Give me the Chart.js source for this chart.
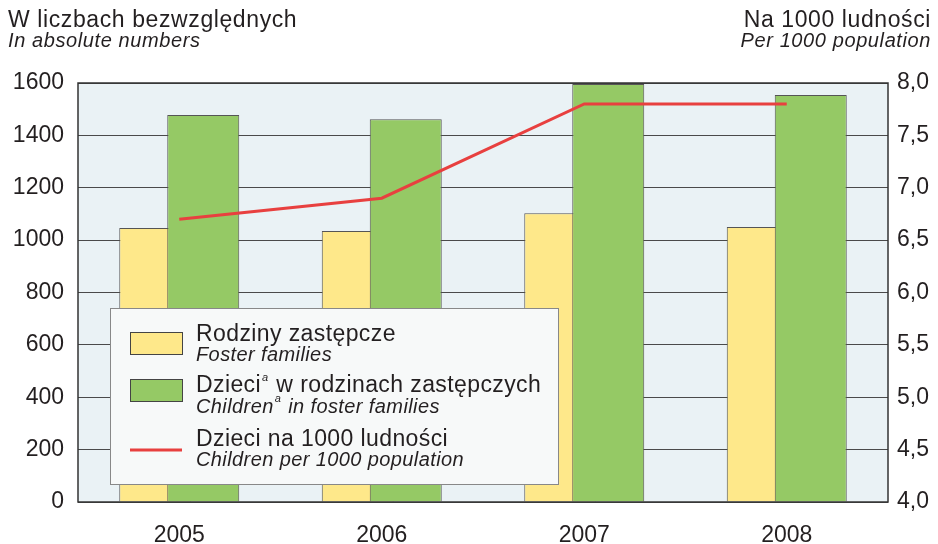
<!DOCTYPE html>
<html>
<head>
<meta charset="utf-8">
<script src="https://cdn.jsdelivr.net/npm/chart.js@4"></script>
<style>
  body { margin: 0; background: #fff; }
  #wrap { width: 938px; height: 544px; position: relative; }
</style>
</head>
<body>
<div id="wrap"><canvas id="myChart"></canvas></div>
<script>
// data
const years = ["2005", "2006", "2007", "2008"];
const fosterFamilies = [1046, 1035, 1103, 1050];
const childrenInFamilies = [1478, 1462, 1596, 1554];
const childrenPer1000 = [6.7, 6.9, 7.8, 7.8];

const leftTitle = ["W liczbach bezwzględnych", "In absolute numbers"];
const rightTitle = ["Na 1000 ludności", "Per 1000 population"];
// legend lines: [polish, english]; "^" marks the superscript a
const legendLabels = [
  ["Rodziny zastępcze", "Foster families"],
  ["Dzieci^ w rodzinach zastępczych", "Children^ in foster families"],
  ["Dzieci na 1000 ludności", "Children per 1000 population"]
];

const yellow = "#fee88a";
const green = "#95c965";
const red = "#e8403f";
const FONT = "'Liberation Sans', Arial, sans-serif";

function supText(ctx, str, x, y) {
  // draws text, "^" becomes a small raised "a"
  const parts = str.split("^");
  let cx = x;
  parts.forEach((p, i) => {
    ctx.fillText(p, cx, y);
    cx += ctx.measureText(p).width;
    if (i < parts.length - 1) {
      ctx.save();
      ctx.font = "italic 11px " + FONT;
      ctx.fillText("a", cx + 1, y - 11);
      cx += ctx.measureText("a").width + 2;
      ctx.restore();
    }
  });
}

const customDraw = {
  id: "customDraw",
  beforeDraw(chart) {
    const { ctx, chartArea: a } = chart;
    ctx.save();
    ctx.fillStyle = "#eaf2f5";
    ctx.fillRect(a.left, a.top, a.right - a.left, a.bottom - a.top);
    // axis titles
    ctx.fillStyle = "#231f20";
    ctx.textBaseline = "alphabetic";
    ctx.letterSpacing = "0.6px";
    ctx.font = "23px " + FONT;
    ctx.textAlign = "left";
    ctx.fillText(leftTitle[0], 8, 27);
    ctx.textAlign = "right";
    ctx.fillText(rightTitle[0], 931, 27);
    ctx.font = "italic 20px " + FONT;
    ctx.textAlign = "left";
    ctx.fillText(leftTitle[1], 8, 47);
    ctx.textAlign = "right";
    ctx.fillText(rightTitle[1], 931, 47);
    ctx.letterSpacing = "0px";
    ctx.restore();
  },
  beforeDatasetsDraw(chart) {
    const { ctx, chartArea: a } = chart;
    // yellow first, green over it, line on top
    [0, 1, 2].forEach(i => chart.getDatasetMeta(i).controller.draw());

    ctx.save();
    // plot frame
    ctx.strokeStyle = "#333";
    ctx.lineWidth = 1.5;
    ctx.strokeRect(a.left, a.top, a.right - a.left, a.bottom - a.top);

    // legend box
    const lx = 110, ly = 308, lw = 448, lh = 176;
    ctx.fillStyle = "#f7f9f9";
    ctx.fillRect(lx, ly, lw, lh);
    ctx.strokeStyle = "#888";
    ctx.lineWidth = 1;
    ctx.strokeRect(lx + 0.5, ly + 0.5, lw, lh);

    const rowY = [332, 379, 426];
    const base1 = [341, 392, 446];
    const base2 = [361, 413, 466];
    const colors = [yellow, green, red];
    ctx.letterSpacing = "0.4px";
    legendLabels.forEach((lab, i) => {
      const y = rowY[i];
      if (i < 2) {
        ctx.fillStyle = colors[i];
        ctx.fillRect(130, y, 52, 22);
        ctx.strokeStyle = "#444";
        ctx.strokeRect(130.5, y + 0.5, 52, 22);
      } else {
        ctx.strokeStyle = red;
        ctx.lineWidth = 3;
        ctx.beginPath();
        ctx.moveTo(130, 450);
        ctx.lineTo(182, 450);
        ctx.stroke();
        ctx.lineWidth = 1;
      }
      ctx.fillStyle = "#231f20";
      ctx.textAlign = "left";
      ctx.font = "23px " + FONT;
      supText(ctx, lab[0], 196, base1[i]);
      ctx.font = "italic 20px " + FONT;
      supText(ctx, lab[1], 196, base2[i]);
    });
    ctx.letterSpacing = "0px";
    ctx.restore();
    return false;
  }
};

const tickFont = { family: FONT, size: 23 };

new Chart(document.getElementById("myChart"), {
  type: "bar",
  data: {
    labels: years,
    datasets: [
      {
        label: "Rodziny zastępcze",
        data: fosterFamilies,
        backgroundColor: yellow,
        borderColor: "#555",
        borderWidth: 1,
        categoryPercentage: 0.474,
        barPercentage: 1.5,
        yAxisID: "y"
      },
      {
        label: "Dzieci w rodzinach zastępczych",
        data: childrenInFamilies,
        backgroundColor: green,
        borderColor: "#555",
        borderWidth: 1,
        categoryPercentage: 0.474,
        barPercentage: 1.5,
        yAxisID: "y"
      },
      {
        type: "line",
        label: "Dzieci na 1000 ludności",
        data: childrenPer1000,
        borderColor: red,
        borderWidth: 3,
        pointRadius: 0,
        tension: 0,
        yAxisID: "y1"
      }
    ]
  },
  options: {
    responsive: true,
    maintainAspectRatio: false,
    animation: false,
    layout: { padding: { top: 83, left: 0, right: 0, bottom: 0 } },
    plugins: { legend: { display: false }, tooltip: { enabled: false } },
    scales: {
      x: {
        grid: { display: false },
        border: { display: false },
        ticks: { color: "#231f20", font: tickFont, padding: 12 },
        afterFit(s) { s.height = 42; }
      },
      y: {
        position: "left",
        min: 0,
        max: 1600,
        ticks: { stepSize: 200, color: "#231f20", font: tickFont, padding: 14, callback: v => String(v) },
        grid: { color: "#4a4a4a", lineWidth: 1, drawTicks: false },
        border: { display: false },
        afterFit(s) { s.width = 78; }
      },
      y1: {
        position: "right",
        min: 4,
        max: 8,
        ticks: {
          stepSize: 0.5,
          color: "#231f20",
          font: tickFont,
          padding: 9,
          callback: v => v.toFixed(1).replace(".", ",")
        },
        grid: { display: false, drawTicks: false },
        border: { display: false },
        afterFit(s) { s.width = 50; }
      }
    }
  },
  plugins: [customDraw]
});
</script>
</body>
</html>
